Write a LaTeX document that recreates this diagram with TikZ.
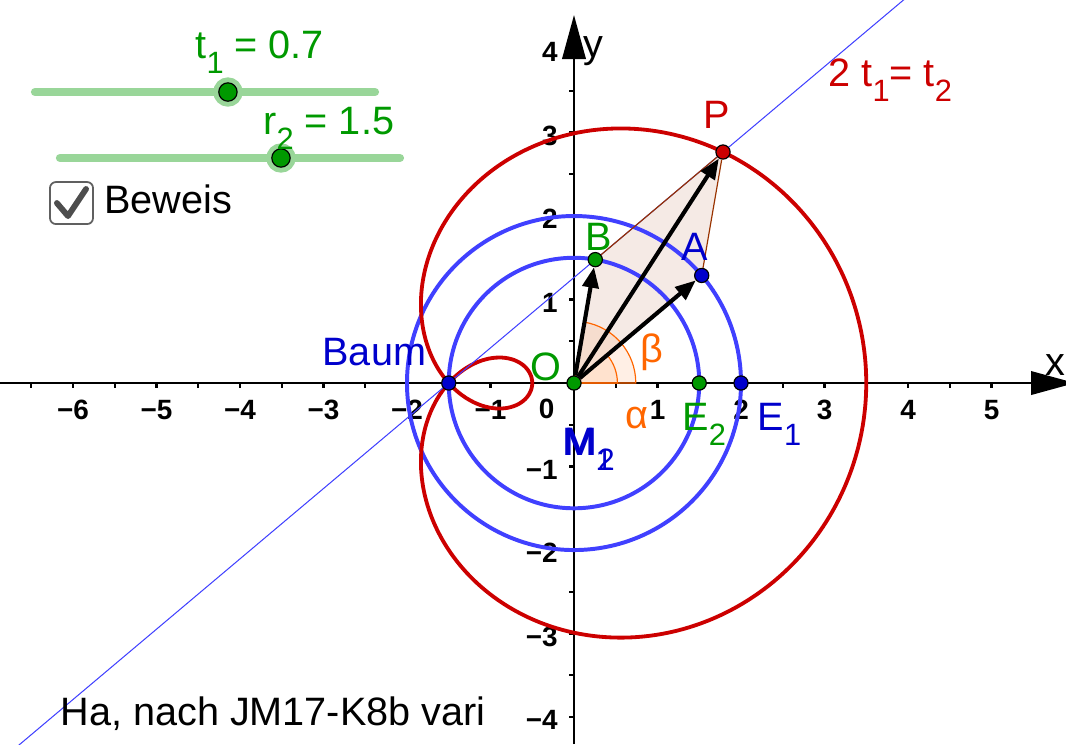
\documentclass[tikz,border=0pt]{standalone}
\usepackage{fontspec}
\setmainfont{Liberation Sans}
\usepackage{xcolor}
\usetikzlibrary{arrows.meta, calc, positioning}

\definecolor{ggred}{RGB}{204,0,0}
\definecolor{ggblue}{RGB}{64,64,255}
\definecolor{ptblue}{RGB}{0,0,204}
\definecolor{gggreen}{RGB}{0,153,0}
\definecolor{ggorange}{RGB}{255,102,0}
\definecolor{ggbrown}{RGB}{153,51,0}
\definecolor{sliderg}{RGB}{153,214,153}
\definecolor{boxgray}{RGB}{96,96,96}

\newcommand\ix[1]{\raisebox{-0.4em}{\fontsize{10.5}{12}\selectfont #1}}

\begin{document}
\begin{tikzpicture}[
    lbl/.style={font=\fontsize{13.5}{16}\selectfont, inner sep=0pt, anchor=base west},
    ticklbl/.style={font=\fontsize{9.5}{11}\selectfont\bfseries, inner sep=0pt},
    axisline/.style={line width=0.75pt, -{Triangle[length=15pt, width=8pt]}},
    gpoint/.style={circle, draw=black, line width=0.4pt, minimum size=0.17cm, inner sep=0pt},
    knob/.style={gpoint, fill=gggreen, minimum size=0.22cm, preaction={draw=sliderg, line width=0.13cm}},
    vec/.style={line width=1.4pt, -{Triangle[length=7pt, width=5.5pt]}},
    kreis/.style={draw=ggblue, line width=1.35pt},
    curve/.style={draw=ggred, line width=1.3pt},
    guide/.style={draw=ggblue, line width=0.35pt},
    patch/.style={fill=ggbrown, fill opacity=0.1},
    side/.style={draw=ggbrown, line width=0.4pt},
    sector/.style={draw=ggorange, line width=0.4pt, fill=ggorange, fill opacity=0.1},
    slider/.style={draw=sliderg, line width=2.8pt, line cap=round}
]
\useasboundingbox (-6.874,-4.323) rectangle (5.892,4.587);
\clip (-6.874,-4.323) rectangle (5.892,4.587);

\coordinate (o) at (0,0);
\coordinate (a) at (40.107:2);
\coordinate (b) at (80.214:1.5);
\coordinate (p) at ($(a)+(b)$);
\coordinate (baum) at (-1.5,0);
\coordinate (e1) at (2,0);
\coordinate (e2) at (1.5,0);

% axes
\draw[axisline] (-6.874,0) -- (6.0,0);
\draw[axisline] (0,-4.323) -- (0,4.407);
\foreach \k in {1,...,11} \draw[line width=0.75pt] (\k*0.5,0) -- ++(0,-0.055);
\foreach \k in {1,...,13} \draw[line width=0.75pt] (-\k*0.5,0) -- ++(0,-0.055);
\foreach \k in {1,...,8} {
    \draw[line width=0.75pt] (0,\k*0.5) -- ++(-0.055,0);
    \draw[line width=0.75pt] (0,-\k*0.5) -- ++(-0.055,0);
}
\foreach \k in {1,...,5} \node[ticklbl, anchor=base] (xp\k) at (\k,-0.435) {\k};
\foreach \k in {1,...,6} \node[ticklbl, anchor=base] (xm\k) at (-\k,-0.435) {−\k};
\foreach \k in {1,...,4} {
    \node[ticklbl, anchor=base east] (yp\k) at (-0.19,\k-0.15) {\k};
    \node[ticklbl, anchor=base east] (ym\k) at (-0.19,-\k-0.15) {−\k};
}
\node[ticklbl, anchor=base east] (null) at (-0.228,-0.419) {0};
\node[lbl] (xlbl) at (5.641,0.096) {x};
\node[lbl] (ylbl) at (0.108,3.904) {y};

\fill[patch] (o) -- (a) -- (p) -- (b) -- cycle;
\filldraw[sector] (o) -- ++(0.74,0) arc[start angle=0, end angle=80.214, radius=0.74] -- cycle;
\filldraw[sector] (o) -- ++(0.52,0) arc[start angle=0, end angle=40.107, radius=0.52] -- cycle;

\draw[kreis] (o) circle[radius=2];
\draw[kreis] (o) circle[radius=1.5];
\draw[curve] plot[domain=0:358.5, samples=240, smooth cycle, variable=\u]
    ({2*cos(\u)+1.5*cos(2*\u)}, {2*sin(\u)+1.5*sin(2*\u)});
\draw[guide] ($(baum)!-2.5!(p)$) -- ($(baum)!2.5!(p)$);

\node[gpoint, fill=gggreen] (O) at (o) {};
\node[gpoint, fill=ptblue] (A) at (a) {};
\node[gpoint, fill=gggreen] (B) at (b) {};
\node[gpoint, fill=ggred] (P) at (p) {};
\node[gpoint, fill=ptblue] (Baum) at (baum) {};
\node[gpoint, fill=gggreen] (E2) at (e2) {};
\node[gpoint, fill=ptblue] (E1) at (e1) {};

\draw[side] (A) -- (P);
\draw[side] (B) -- (P);
\draw[vec] (O) -- (A);
\draw[vec] (O) -- (B);
\draw[vec] (O) -- (P);

\node[lbl, text=ggred] (Plbl) at (1.545,3.054) {P};
\node[lbl, text=ptblue] (Albl) at (1.281,1.473) {A};
\node[lbl, text=gggreen] (Blbl) at (0.132,1.593) {B};
\node[lbl, text=gggreen] (Olbl) at (-0.527,0.036) {O};
\node[lbl, text=ptblue] (Baumlbl) at (-3.018,0.216) {Baum};
\node[lbl, text=ggorange] (alpha) at (0.611,-0.539) {α};
\node[lbl, text=ggorange] (beta) at (0.790,0.240) {β};
\node[lbl, text=gggreen] (E2lbl) at (1.293,-0.563) {E\ix{2}};
\node[lbl, text=ptblue] (E1lbl) at (2.192,-0.563) {E\ix{1}};
\node[lbl, text=ptblue] (M1lbl) at (-0.144,-0.862) {M\ix{1}};
\node[lbl, text=ptblue] (M2lbl) at (-0.118,-0.862) {M\ix{2}};
\node[lbl, text=ggred] (bed) at (3.042,3.557) {2 t\ix{1}= t\ix{2}};

% sliders and checkbox
\draw[slider] (-6.455,3.485) coordinate (t1a) -- (-2.383,3.485) coordinate (t1b);
\draw[slider] (-6.156,2.695) coordinate (r2a) -- (-2.084,2.695) coordinate (r2b);
\node[knob] (t1knob) at (-4.144,3.485) {};
\node[knob] (r2knob) at (-3.509,2.695) {};
\node[lbl, text=gggreen] (t1lbl) at (-4.539,3.892) {t\ix{1} = 0.7};
\node[lbl, text=gggreen] (r2lbl) at (-3.725,2.982) {r\ix{2} = 1.5};
\node[draw=boxgray, rounded corners=2pt, line width=0.6pt, minimum width=0.515cm, minimum height=0.503cm, inner sep=0pt] (chk) at (-6.0175,2.1555) {};
\draw[boxgray!80!black, line width=2pt, line cap=round, line join=round]
    ([shift={(-0.175,0)}]chk.center) -- ([shift={(-0.042,-0.156)}]chk.center) -- ([shift={(0.174,0.168)}]chk.center);
\node[lbl, right=0.12cm of chk, yshift=0.05cm] (beweis) {Beweis};

\node[lbl] (credit) at (-6.156,-4.096) {Ha, nach JM17-K8b vari};
\end{tikzpicture}
\end{document}
